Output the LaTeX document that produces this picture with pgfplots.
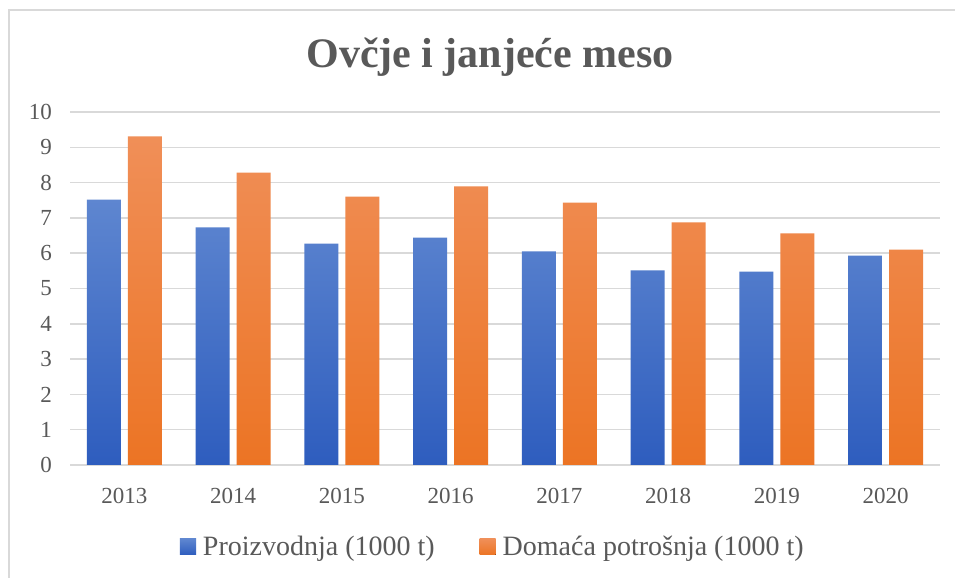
\documentclass[border=0pt]{standalone}
\usepackage{fontspec}
\setmainfont{Liberation Serif}
\usepackage{pgfplots}
\pgfplotsset{compat=1.18}
\definecolor{txt}{HTML}{595959}
\definecolor{gridc}{HTML}{D9D9D9}
\definecolor{blueT}{HTML}{5E86D0}
\definecolor{blueB}{HTML}{2E5DBE}
\definecolor{orT}{HTML}{F08F58}
\definecolor{orB}{HTML}{EC7424}
\begin{document}
\begin{tikzpicture}[x=1bp,y=1bp]
\useasboundingbox (0,0) rectangle (955,578);
\fill[white] (0,0) rectangle (955,578);
\draw[gridc, line width=1.5bp] (9,-5) -- (9,568) -- (960,568);
\node[font=\fontsize{42bp}{48bp}\selectfont\bfseries, text=txt] at (490,521) {Ovčje i janjeće meso};
\begin{axis}[at={(70bp,113bp)}, anchor=south west, scale only axis,
  width=870bp, height=353bp,
  xmin=-0.5, xmax=7.5, ymin=0, ymax=10,
  ybar=7bp, bar width=34bp,
  axis line style={draw=none},
  tick style={draw=none},
  xtick={0,...,7},
  xticklabels={2013,2014,2015,2016,2017,2018,2019,2020},
  ytick={0,1,...,10},
  ymajorgrids, grid style={gridc, line width=1.5bp},
  /pgf/number format/assume math mode=true,
  ticklabel style={font=\fontsize{23bp}{27bp}\selectfont, text=txt},
  yticklabel style={anchor=east, inner sep=0pt, xshift=-18bp},
  xticklabel style={anchor=north, inner sep=0pt, yshift=-19bp},
  legend style={at={(0.486,-0.232)}, anchor=center, draw=none, fill=none,
    legend columns=2, font=\fontsize{28bp}{32bp}\selectfont, text=txt,
    /tikz/every odd column/.append style={column sep=5bp},
    /tikz/every even column/.append style={column sep=43bp}},
  legend image code/.code={\fill[#1] (0bp,-8bp) rectangle (16bp,8bp);},
]
\addplot[draw=none, top color=blueT, bottom color=blueB] coordinates {
(0,7.52) (1,6.73) (2,6.27) (3,6.44) (4,6.05) (5,5.51) (6,5.48) (7,5.93)};
\addlegendentry{Proizvodnja (1000 t)}
\addplot[draw=none, top color=orT, bottom color=orB] coordinates {
(0,9.31) (1,8.28) (2,7.60) (3,7.89) (4,7.43) (5,6.87) (6,6.56) (7,6.10)};
\addlegendentry{Domaća potrošnja (1000 t)}
\end{axis}
\end{tikzpicture}
\end{document}
